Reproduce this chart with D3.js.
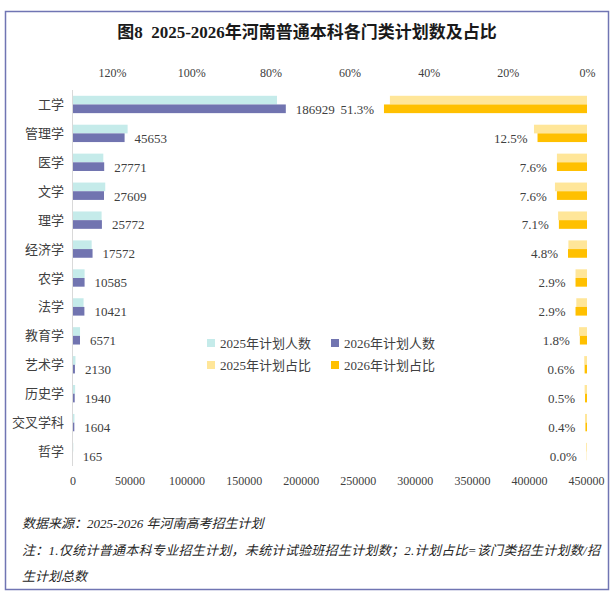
<!DOCTYPE html>
<html>
<head>
<meta charset="utf-8">
<script src="https://cdn.jsdelivr.net/npm/d3@7"></script>
<style>
  html, body { margin: 0; padding: 0; background: #fff; }
  svg text { font-family: "Liberation Serif", "Times New Roman", "Noto Sans CJK SC", serif; fill: #404040; }
  .title { font-weight: bold; font-size: 17px; fill: #1a1a1a; }
  .axis text { font-size: 12px; }
  .note { font-size: 13px; font-style: italic; fill: #262626; }
</style>
</head>
<body>
<svg id="chart" width="615" height="599"></svg>
<script>
const categories = ['工学', '管理学', '医学', '文学', '理学', '经济学', '农学', '法学', '教育学', '艺术学', '历史学', '交叉学科', '哲学'];
const count2025 = [179200, 48300, 27000, 28700, 25500, 16800, 10600, 9700, 6600, 2600, 2300, 1700, 700];
const count2026 = [186929, 45653, 27771, 27609, 25772, 17572, 10585, 10421, 6571, 2130, 1940, 1604, 165];
const pct2025 = [0.498, 0.134, 0.076, 0.081, 0.073, 0.047, 0.029, 0.027, 0.020, 0.007, 0.006, 0.005, 0.002];
const pct2026 = [0.513, 0.125, 0.076, 0.076, 0.071, 0.048, 0.029, 0.029, 0.018, 0.006, 0.005, 0.004, 0.0004];
const countTicks = [0, 50000, 100000, 150000, 200000, 250000, 300000, 350000, 400000, 450000];
const pctTicks = [0, 0.2, 0.4, 0.6, 0.8, 1.0, 1.2];
const legendItems = [
  { name: '2025年计划人数', color: '#c5ebea' },
  { name: '2026年计划人数', color: '#7174b0' },
  { name: '2025年计划占比', color: '#ffe699' },
  { name: '2026年计划占比', color: '#ffc000' }
];

const svg = d3.select('#chart');

// frame
svg.append('rect')
  .attr('x', 5.5).attr('y', 11.5)
  .attr('width', 603).attr('height', 578)
  .attr('fill', '#fff')
  .attr('stroke', '#7075b3')
  .attr('stroke-width', 1.5);

svg.append('text')
  .attr('class', 'title')
  .attr('x', 307).attr('y', 38)
  .attr('text-anchor', 'middle')
  .text('图8\u00a0 2025-2026年河南普通本科各门类计划数及占比');

const x = d3.scaleLinear().domain([0, 450000]).range([72.5, 586]);
const xp = d3.scaleLinear().domain([0, 1.3]).range([587, 72.5]);

const y = d3.scaleBand()
  .domain(categories)
  .range([90, 466])
  .paddingInner(0.4)
  .paddingOuter(0.2);

const y1 = d3.scaleBand()
  .domain(['2025', '2026'])
  .range([0, y.bandwidth()]);

const rows = categories.map((c, i) => ({
  cat: c,
  c25: count2025[i], c26: count2026[i],
  p25: pct2025[i], p26: pct2026[i]
}));

// axes
const topAxis = svg.append('g')
  .attr('class', 'axis')
  .attr('transform', 'translate(0,80)')
  .call(d3.axisTop(xp).tickValues(pctTicks).tickSize(0).tickPadding(3).tickFormat(d3.format('.0%')));
topAxis.select('.domain').remove();

const bottomAxis = svg.append('g')
  .attr('class', 'axis')
  .attr('transform', 'translate(0,472)')
  .call(d3.axisBottom(x).tickValues(countTicks).tickSize(0).tickPadding(4).tickFormat(d3.format('d')));
bottomAxis.select('.domain').remove();

svg.selectAll('.axis text').attr('fill', '#404040');

// percentage bars (right side, reversed axis)
const pctBars = svg.append('g');
pctBars.selectAll('rect.p25')
  .data(rows).join('rect')
  .attr('class', 'p25')
  .attr('x', d => xp(d.p25))
  .attr('y', d => y(d.cat) + y1('2025'))
  .attr('width', d => xp(0) - xp(d.p25))
  .attr('height', y1.bandwidth())
  .attr('fill', legendItems[2].color);
pctBars.selectAll('rect.p26')
  .data(rows).join('rect')
  .attr('class', 'p26')
  .attr('x', d => xp(d.p26))
  .attr('y', d => y(d.cat) + y1('2026'))
  .attr('width', d => xp(0) - xp(d.p26))
  .attr('height', y1.bandwidth())
  .attr('fill', legendItems[3].color);

// count bars
const bars = svg.append('g');
bars.selectAll('rect.c25')
  .data(rows).join('rect')
  .attr('class', 'c25')
  .attr('x', x(0))
  .attr('y', d => y(d.cat) + y1('2025'))
  .attr('width', d => x(d.c25) - x(0))
  .attr('height', y1.bandwidth())
  .attr('fill', legendItems[0].color);
bars.selectAll('rect.c26')
  .data(rows).join('rect')
  .attr('class', 'c26')
  .attr('x', x(0))
  .attr('y', d => y(d.cat) + y1('2026'))
  .attr('width', d => x(d.c26) - x(0))
  .attr('height', y1.bandwidth())
  .attr('fill', legendItems[1].color);

// category axis line
svg.append('line')
  .attr('x1', x(0)).attr('x2', x(0))
  .attr('y1', 90).attr('y2', 466)
  .attr('stroke', '#d9d9d9')
  .attr('stroke-width', 1);

// category labels
svg.append('g').selectAll('text')
  .data(categories).join('text')
  .attr('x', 64)
  .attr('y', d => y(d) + y.bandwidth() / 2)
  .attr('dy', '0.35em')
  .attr('text-anchor', 'end')
  .style('font-size', '13px')
  .text(d => d);

// value labels (2026 only)
svg.append('g').selectAll('text')
  .data(rows).join('text')
  .attr('x', d => x(d.c26) + 10)
  .attr('y', d => y(d.cat) + y1('2026') + y1.bandwidth() / 2)
  .attr('dy', '0.38em')
  .style('font-size', '13px')
  .text(d => d.c26);

svg.append('g').selectAll('text')
  .data(rows).join('text')
  .attr('x', d => xp(d.p26) - 10)
  .attr('y', d => y(d.cat) + y1('2026') + y1.bandwidth() / 2)
  .attr('dy', '0.38em')
  .attr('text-anchor', 'end')
  .style('font-size', '13px')
  .text(d => d3.format('.1%')(d.p26));

// legend, 2 x 2
const legend = svg.append('g');
legendItems.forEach((item, i) => {
  const lx = [207, 331][i % 2];
  const ly = [343, 365][Math.floor(i / 2)];
  const g = legend.append('g').attr('transform', `translate(${lx},${ly})`);
  g.append('rect')
    .attr('x', 0).attr('y', -4)
    .attr('width', 8).attr('height', 8)
    .attr('fill', item.color);
  g.append('text')
    .attr('x', 13).attr('y', 0)
    .attr('dy', '0.36em')
    .style('font-size', '13px')
    .text(item.name);
});

// notes
const notes = [
  '数据来源：2025-2026 年河南高考招生计划',
  '注：1.仅统计普通本科专业招生计划，未统计试验班招生计划数；2.计划占比=该门类招生计划数/招',
  '生计划总数'
];
svg.append('g').selectAll('text')
  .data(notes).join('text')
  .attr('class', 'note')
  .attr('x', 22)
  .attr('y', (d, i) => [528, 555, 581][i])
  .attr('textLength', (d, i) => i === 1 ? 578 : null)
  .attr('lengthAdjust', 'spacing')
  .text(d => d);
</script>
</body>
</html>
